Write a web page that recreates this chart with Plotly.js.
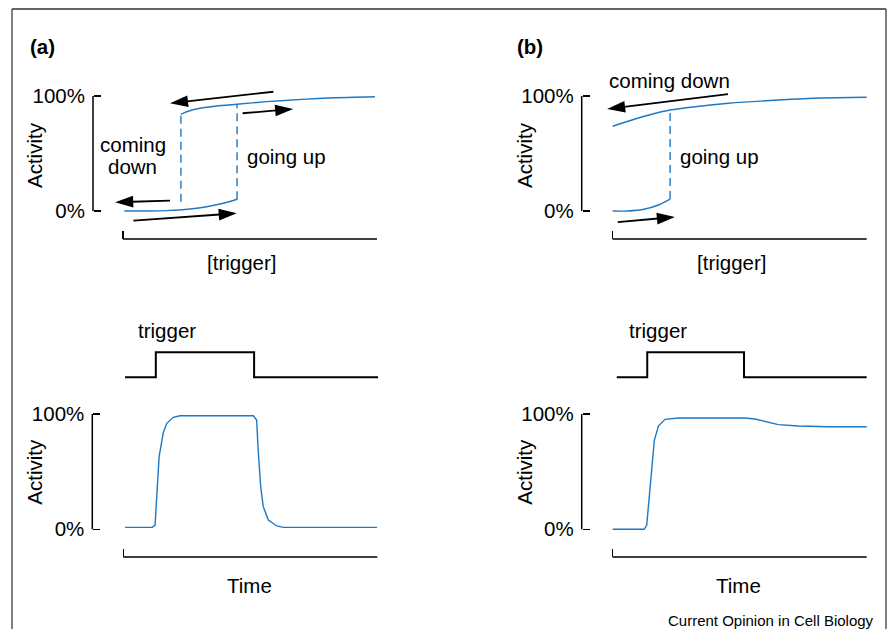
<!DOCTYPE html>
<html>
<head>
<meta charset="utf-8">
<script src="https://cdn.plot.ly/plotly-3.0.1.min.js"></script>
<style>html,body{margin:0;padding:0;background:#fff;}#chart{width:890px;height:629px;}</style>
</head>
<body>
<div id="chart"></div>
<script>
// ---------------- data ----------------
// Panel (a) top: activity vs [trigger] (hysteresis, reversible)
const aUpperX = [22.8, 25.1, 30.3, 36.9, 44.8, 56.6, 70.5, 82.8, 99.2];
const aUpperY = [84.1, 86.3, 89.3, 91.3, 92.8, 95.1, 97.1, 98.5, 99.4];
const aLowerX = [0.5, 10.6, 17.2, 26.4, 33.0, 39.5, 45.0];
const aLowerY = [0, 0, 0.3, 1.7, 3.7, 6.7, 10.2];
const aDownX = [22.8, 22.8];  const aDownY = [8.1, 84.1];   // coming down jump
const aUpX   = [44.9, 44.9];  const aUpY   = [10.2, 92.8];  // going up jump

// Panel (b) top: irreversible switch
const bUpperX = [0, 3.5, 8.8, 15.4, 22.6, 32.4, 45.6, 65.2, 82.2, 100];
const bUpperY = [73.7, 76.3, 80.0, 84.1, 87.8, 90.7, 93.7, 96.5, 98.3, 98.9];
const bLowerX = [0, 6.1, 12.7, 18.0, 22.6];
const bLowerY = [0, 0, 1.7, 5.2, 10.4];
const bUpX = [22.6, 22.6]; const bUpY = [10.4, 87.8];

// Arrows [tailX, tipX], [tailY, tipY] in each panel's data units
const aArrowTopX = [59.2, 18.5],  aArrowTopY = [103.7, 93.7];
const aArrowRightX = [47.1, 67.0], aArrowRightY = [85.0, 88.7];
const aArrowLeftX = [18.5, -3.1], aArrowLeftY = [9.0, 7.6];
const aArrowBotX = [4.1, 44.8],   aArrowBotY = [-8.4, -2.0];
const bArrowTopX = [45.4, -2.2],  bArrowTopY = [101.7, 88.7];
const bArrowBotX = [2.0, 24.5],   bArrowBotY = [-9.6, -5.2];

// Trigger pulses (time, level)
const aTrigT = [0.7, 12.8, 12.8, 51.5, 51.5, 100.3];
const aTrigL = [0, 0, 1, 1, 0, 0];
const bTrigT = [1.6, 13.6, 13.6, 51.7, 51.7, 100];
const bTrigL = [0, 0, 1, 1, 0, 0];

// Activity time courses
const aTimeT = [0.7, 11.4, 12.5, 13.1, 14.1, 15.7, 17.1, 19.7, 22.3, 51.2, 52.5, 53.1, 54.1, 55.1, 57.1, 60.4, 63.0, 99.9];
const aTimeV = [1.7, 1.7, 3.7, 25.4, 63.0, 83.3, 91.9, 97.1, 98.5, 98.5, 94.8, 68.8, 36.9, 19.6, 8.1, 2.9, 1.7, 1.7];
const bTimeT = [0, 12.4, 13.4, 14.3, 15.4, 16.4, 18.0, 20.6, 25.9, 52.1, 56.0, 62.2, 65.2, 73.1, 84.9, 100];
const bTimeV = [0, 0, 3.7, 25.4, 54.2, 77.4, 89.6, 95.4, 96.5, 96.5, 95.7, 92.6, 90.8, 89.6, 89.0, 89.0];

const yTickVals = [0, 100];
const yTickText = ['0%', '100%'];

// ---------------- layout helpers ----------------
const W = 890, H = 629;
const px = x => x / W;
const py = y => 1 - y / H;
function xr(p0, p100, d0, d1) { const s = 100 / (p100 - p0); return {domain: [d0 / W, d1 / W], range: [(d0 - p0) * s, (d1 - p0) * s]}; }
function yr(p0, pmax, top, bottom, vmax) { vmax = vmax || 100; const s = vmax / (p0 - pmax); return {domain: [1 - bottom / H, 1 - top / H], range: [(p0 - bottom) * s, (p0 - top) * s]}; }

const FONT = 'Liberation Sans, Arial, Helvetica, sans-serif';
const BLUE = '#1f78c4';
const INK = '#000000';

function xAxis(p0, p100, d0, d1, linePx) {
  return Object.assign(xr(p0, p100, d0, d1), {
    anchor: 'free', position: py(linePx), tickvals: [0], ticks: 'inside', ticklen: 8, tickwidth: 1.5,
    tickcolor: INK, showticklabels: false, showline: false, showgrid: false, zeroline: false, fixedrange: true
  });
}
function yAxis(p0, p100, top, bottom, linePx) {
  return Object.assign(yr(p0, p100, top, bottom), {
    anchor: 'free', position: px(linePx), tickvals: yTickVals, ticktext: yTickText, ticks: 'inside', ticklen: 7,
    tickwidth: 1.5, tickcolor: INK, ticklabelstandoff: 8, tickfont: {family: FONT, size: 20.5, color: INK},
    showline: false, showgrid: false, zeroline: false, fixedrange: true
  });
}
function trigAxis(p0, p1, top, bottom) {
  return Object.assign(yr(p0, p1, top, bottom, 1), {anchor: 'free', position: 0, visible: false, fixedrange: true});
}

// ---------------- traces ----------------
const blueLine = {color: BLUE, width: 1.4};
const dashLine = {color: BLUE, width: 1.4, dash: '8px,5px'};
function curve(x, y, xa, ya, line, shape) {
  return {type: 'scatter', mode: 'lines', x: x, y: y, xaxis: xa, yaxis: ya, line: Object.assign({shape: shape || 'linear', smoothing: 0.6}, line), hoverinfo: 'skip', showlegend: false};
}
function arrow(x, y, xa, ya) {
  return {type: 'scatter', mode: 'lines+markers', x: x, y: y, xaxis: xa, yaxis: ya,
    line: {color: INK, width: 1.8},
    marker: {symbol: 'arrow', angleref: 'previous', size: [0, 19], color: INK, opacity: 1, line: {width: 0}},
    hoverinfo: 'skip', showlegend: false};
}

const data = [
  curve(aUpperX, aUpperY, 'x', 'y', blueLine, 'spline'),
  curve(aLowerX, aLowerY, 'x', 'y', blueLine, 'spline'),
  curve(aDownX, aDownY, 'x', 'y', dashLine),
  curve(aUpX, aUpY, 'x', 'y', dashLine),
  arrow(aArrowTopX, aArrowTopY, 'x', 'y'),
  arrow(aArrowRightX, aArrowRightY, 'x', 'y'),
  arrow(aArrowLeftX, aArrowLeftY, 'x', 'y'),
  arrow(aArrowBotX, aArrowBotY, 'x', 'y'),

  curve(bUpperX, bUpperY, 'x2', 'y2', blueLine, 'spline'),
  curve(bLowerX, bLowerY, 'x2', 'y2', blueLine, 'spline'),
  curve(bUpX, bUpY, 'x2', 'y2', dashLine),
  arrow(bArrowTopX, bArrowTopY, 'x2', 'y2'),
  arrow(bArrowBotX, bArrowBotY, 'x2', 'y2'),

  curve(aTrigT, aTrigL, 'x3', 'y5', {color: INK, width: 2}),
  curve(aTimeT, aTimeV, 'x3', 'y3', blueLine),
  curve(bTrigT, bTrigL, 'x4', 'y6', {color: INK, width: 2}),
  curve(bTimeT, bTimeV, 'x4', 'y4', blueLine)
];

// ---------------- layout ----------------
function bracket(xa, ya, yLinePx, xLinePx) {
  return [
    {type: 'line', xref: 'paper', yref: ya, x0: px(yLinePx), x1: px(yLinePx), y0: 0, y1: 100, line: {color: INK, width: 1.5}},
    {type: 'line', xref: xa, yref: 'paper', x0: 0, x1: 100, y0: py(xLinePx), y1: py(xLinePx), line: {color: INK, width: 1.5}}
  ];
}
function txt(text, x, y, opts) {
  return Object.assign({text: text, xref: 'paper', yref: 'paper', x: px(x), y: py(y), showarrow: false,
    xanchor: 'center', yanchor: 'middle', font: {family: FONT, size: 20.5, color: INK}}, opts || {});
}

const layout = {
  width: W, height: H, margin: {l: 0, r: 0, t: 0, b: 0},
  paper_bgcolor: '#fff', plot_bgcolor: 'rgba(0,0,0,0)', showlegend: false,
  xaxis: xAxis(123, 377, 100, 420, 239),
  yaxis: yAxis(211, 96, 70, 232, 93),
  xaxis2: xAxis(612.7, 866.7, 595, 880, 239),
  yaxis2: yAxis(211, 96, 70, 232, 581.7),
  xaxis3: xAxis(123.3, 377.3, 110, 390, 557),
  yaxis3: yAxis(529.3, 414, 400, 540, 92.3),
  xaxis4: xAxis(612.7, 866.7, 600, 880, 557),
  yaxis4: yAxis(529.3, 414, 400, 540, 581.7),
  yaxis5: trigAxis(377.3, 352.3, 340, 390),
  yaxis6: trigAxis(377.3, 352.3, 340, 390),
  shapes: [].concat(
    bracket('x', 'y', 93, 239),
    bracket('x2', 'y2', 581.7, 239),
    bracket('x3', 'y3', 92.3, 557),
    bracket('x4', 'y4', 581.7, 557),
    [
      {type: 'line', xref: 'paper', yref: 'paper', x0: px(12), x1: px(12), y0: -0.05, y1: py(9), line: {color: '#808080', width: 2}},
      {type: 'line', xref: 'paper', yref: 'paper', x0: px(886), x1: px(886), y0: -0.05, y1: py(9), line: {color: '#808080', width: 2}},
      {type: 'line', xref: 'paper', yref: 'paper', x0: px(12), x1: px(886), y0: py(9), y1: py(9), line: {color: '#333', width: 1.5}}
    ]
  ),
  annotations: [
    txt('<b>(a)</b>', 27.5, 46, {xanchor: 'left'}),
    txt('<b>(b)</b>', 515, 46, {xanchor: 'left'}),
    txt('coming', 132.5, 145),
    txt('down', 132.5, 166),
    txt('going up', 245, 157, {xanchor: 'left'}),
    txt('coming down', 669, 80),
    txt('going up', 678, 157, {xanchor: 'left'}),
    txt('Activity', 35, 155, {textangle: -90}),
    txt('Activity', 525, 155, {textangle: -90}),
    txt('[trigger]', 241.5, 262),
    txt('[trigger]', 731.7, 262),
    txt('trigger', 167, 330),
    txt('trigger', 658.3, 330),
    txt('Activity', 35, 471.7, {textangle: -90}),
    txt('Activity', 525, 471.7, {textangle: -90}),
    txt('Time', 249.7, 585),
    txt('Time', 738.7, 585),
    txt('Current Opinion in Cell Biology', 876, 620, {xanchor: 'right', font: {family: FONT, size: 15, color: INK}})
  ]
};

Plotly.newPlot('chart', data, layout, {displayModeBar: false, staticPlot: true});
</script>
</body>
</html>
